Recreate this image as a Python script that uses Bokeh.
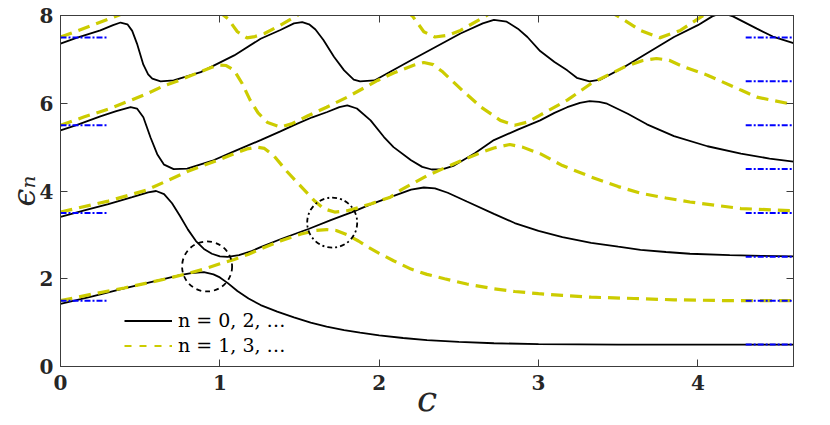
from bokeh.plotting import figure
from bokeh.models import (Range1d, LinearAxis, FixedTicker, Legend, LegendItem,
                          CustomJSTickFormatter)
from bokeh.embed import file_html
from bokeh.resources import INLINE

nan = float("nan")

# ---------------- data ----------------
x_ticks = [0, 1, 2, 3, 4]
y_ticks = [0, 2, 4, 6, 8]
x_label = "c"
y_label = "\u03f5\u2099"

# even levels (solid black)
b0_c = [0, 0.2, 0.4, 0.6, 0.75, 0.82, 0.9, 0.96, 1.0, 1.05, 1.11, 1.18, 1.256, 1.36, 1.465,
        1.57, 1.67, 1.78, 1.88, 2.0, 2.15, 2.3, 2.5, 2.72, 3.0, 3.5, 4.0, 4.6]
b0_e = [1.43, 1.6, 1.78, 1.95, 2.08, 2.13, 2.15, 2.1, 2.03, 1.9, 1.72, 1.55, 1.40, 1.25, 1.12,
        1.0, 0.91, 0.83, 0.77, 0.71, 0.65, 0.6, 0.56, 0.53, 0.51, 0.5, 0.5, 0.5]

b1_c = [0, 0.15, 0.3, 0.45, 0.55, 0.6, 0.65, 0.7, 0.75, 0.8, 0.85, 0.9, 0.95, 1.0, 1.05, 1.12,
        1.2, 1.256, 1.38, 1.56, 1.7, 1.83, 1.95, 2.07, 2.2, 2.28, 2.35, 2.43, 2.55, 2.72, 2.85,
        3.0, 3.15, 3.33, 3.5, 3.64, 3.8, 3.95, 4.2, 4.4, 4.6]
b1_e = [3.41, 3.56, 3.70, 3.86, 3.97, 4.0, 3.93, 3.72, 3.43, 3.12, 2.86, 2.68, 2.57, 2.51, 2.5,
        2.54, 2.63, 2.72, 2.9, 3.14, 3.34, 3.52, 3.7, 3.86, 4.03, 4.08, 4.06, 3.96, 3.76, 3.48,
        3.27, 3.09, 2.95, 2.82, 2.73, 2.66, 2.61, 2.57, 2.54, 2.52, 2.51]

b2_c = [0, 0.1, 0.25, 0.35, 0.44, 0.48, 0.52, 0.565, 0.607, 0.65, 0.71, 0.795, 0.96, 1.1, 1.256,
        1.38, 1.465, 1.58, 1.674, 1.75, 1.8, 1.86, 1.946, 2.03, 2.09, 2.2, 2.27, 2.33, 2.4, 2.47,
        2.6, 2.72, 2.87, 3.01, 3.1, 3.18, 3.26, 3.32, 3.38, 3.43, 3.56, 3.68, 3.85, 4.06, 4.27,
        4.45, 4.6]
b2_e = [5.38, 5.5, 5.7, 5.82, 5.91, 5.88, 5.68, 5.22, 4.84, 4.6, 4.5, 4.51, 4.7, 4.92, 5.16,
        5.36, 5.5, 5.68, 5.8, 5.91, 5.95, 5.88, 5.61, 5.23, 5.0, 4.7, 4.55, 4.49, 4.5, 4.58,
        4.86, 5.16, 5.4, 5.61, 5.78, 5.91, 6.01, 6.05, 6.03, 5.99, 5.76, 5.52, 5.25, 5.02, 4.85,
        4.74, 4.67]

b3_c = [0, 0.1, 0.25, 0.33, 0.377, 0.42, 0.45, 0.48, 0.52, 0.55, 0.576, 0.628, 0.71, 0.88, 1.09,
        1.256, 1.38, 1.465, 1.517, 1.56, 1.6, 1.65, 1.716, 1.78, 1.84, 1.88, 1.97, 2.2, 2.51,
        2.65, 2.72, 2.8, 2.87, 2.93, 3.01, 3.1, 3.18, 3.24, 3.32, 3.39, 3.54, 3.85, 4.0, 4.09,
        4.15, 4.22, 4.37, 4.47, 4.6]
b3_e = [7.36, 7.49, 7.66, 7.78, 7.84, 7.8, 7.65, 7.36, 6.88, 6.66, 6.56, 6.5, 6.52, 6.71, 7.09,
        7.47, 7.67, 7.82, 7.85, 7.8, 7.68, 7.44, 7.06, 6.75, 6.54, 6.5, 6.52, 6.98, 7.59,
        7.82, 7.9, 7.86, 7.7, 7.51, 7.19, 6.94, 6.75, 6.58, 6.5, 6.54, 6.83, 7.51, 7.78, 7.98,
        8.06, 7.98, 7.7, 7.52, 7.37]

# odd levels (dashed yellow)
y0_c = [0, 0.2, 0.4, 0.565, 0.7, 0.8, 0.9, 1.0, 1.09, 1.18, 1.256, 1.38, 1.51, 1.6, 1.67, 1.73,
        1.8, 1.87, 1.93, 2.0, 2.09, 2.2, 2.3, 2.41, 2.55, 2.72, 2.85, 3.0, 3.15, 3.33, 3.6, 3.85,
        4.2, 4.6]
y0_e = [1.5, 1.65, 1.79, 1.92, 2.03, 2.12, 2.22, 2.34, 2.44, 2.56, 2.68, 2.86, 3.02, 3.1, 3.12,
        3.1, 3.0, 2.86, 2.72, 2.58, 2.41, 2.22, 2.1, 2.0, 1.88, 1.77, 1.71, 1.66, 1.62, 1.58,
        1.55, 1.52, 1.5, 1.5]

y1_c = [0, 0.3, 0.54, 0.8, 1.0, 1.09, 1.17, 1.23, 1.28, 1.34, 1.42, 1.51, 1.59, 1.65, 1.72, 1.8,
        1.88, 1.95, 2.07, 2.14, 2.3, 2.47, 2.62, 2.72, 2.82, 2.9, 3.01, 3.15, 3.33, 3.5, 3.64,
        3.8, 3.95, 4.27, 4.6]
y1_e = [3.52, 3.77, 4.02, 4.45, 4.72, 4.85, 4.96, 5.0, 4.97, 4.8, 4.45, 4.1, 3.79, 3.6, 3.52,
        3.55, 3.63, 3.71, 3.86, 4.03, 4.35, 4.62, 4.85, 4.98, 5.06, 5.0, 4.85, 4.58, 4.32, 4.1,
        3.95, 3.84, 3.75, 3.6, 3.55]

y2_c = [0, 0.15, 0.31, 0.45, 0.544, 0.65, 0.73, 0.88, 0.95, 0.99, 1.04, 1.09, 1.14, 1.19, 1.24,
        1.3, 1.38, 1.45, 1.55, 1.67, 1.8, 1.99, 2.09, 2.22, 2.28, 2.34, 2.4, 2.52, 2.64, 2.76,
        2.85, 2.93, 3.01, 3.18, 3.33, 3.54, 3.65, 3.74, 3.82, 3.91, 4.06, 4.27, 4.37, 4.6]
y2_e = [5.5, 5.69, 5.88, 6.08, 6.22, 6.4, 6.5, 6.72, 6.82, 6.87, 6.86, 6.75, 6.45, 6.07, 5.78,
        5.56, 5.46, 5.53, 5.71, 5.91, 6.14, 6.52, 6.69, 6.87, 6.93, 6.88, 6.71, 6.3, 5.91, 5.61,
        5.5, 5.57, 5.73, 6.07, 6.45, 6.83, 6.97, 7.02, 6.98, 6.83, 6.64, 6.3, 6.14, 5.97]

y3_c = [0, 0.1, 0.2, 0.31, 0.36, 0.42, nan, 0.99, 1.05, 1.11, 1.17, 1.22, 1.28, 1.38, 1.475, 1.52,
        nan, 2.17, 2.21, 2.28, 2.35, 2.43, 2.51, 2.66, 2.7, nan, 3.44, 3.5, 3.64, 3.76, 3.89,
        4.02, 4.06]
y3_e = [7.51, 7.64, 7.78, 7.93, 8.0, 8.08, nan, 8.1, 7.93, 7.63, 7.49, 7.52, 7.59, 7.78, 7.98, 8.08,
        nan, 8.1, 7.98, 7.63, 7.51, 7.55, 7.66, 7.97, 8.06, nan, 8.1, 7.98, 7.66, 7.49, 7.66,
        7.97, 8.06]

# harmonic-oscillator limits (blue dash-dot marks)
left_levels = [1.5, 3.5, 5.5, 7.5]
left_c = [0.0, 0.3]
right_levels = [0.5, 1.5, 2.5, 3.5, 4.5, 5.5, 6.5, 7.5]
right_c = [4.3, 4.6]

# avoided-crossing markers
circ_c = [0.92, 1.705]
circ_e = [2.28, 3.28]

legend_labels = ["n = 0, 2, \u2026", "n = 1, 3, \u2026"]

# ---------------- styling ----------------
BLACK = "#000000"
YEL = "#cccc00"
BLUE = "#0000ff"
AX = "#3c3c3c"
TXT = "#262626"
SERIF = "DejaVu Serif"

p = figure(width=830, height=425, output_backend="svg", toolbar_location=None,
           x_range=Range1d(0, 4.6), y_range=Range1d(0, 8),
           min_border_left=60, min_border_right=37, min_border_top=15, min_border_bottom=59,
           background_fill_color="white", border_fill_color="white")
p.outline_line_color = AX
p.xgrid.visible = False
p.ygrid.visible = False

bottom = p.below[0]
left = p.left[0]
top = LinearAxis()
right = LinearAxis()
p.add_layout(top, "above")
p.add_layout(right, "right")

for ax, ticks in [(bottom, x_ticks), (top, x_ticks), (left, y_ticks), (right, y_ticks)]:
    ax.ticker = FixedTicker(ticks=ticks)
    ax.major_tick_in = 7
    ax.major_tick_out = 0
    ax.minor_tick_line_color = None
    ax.axis_line_color = AX
    ax.major_tick_line_color = AX
    ax.major_label_text_font = SERIF
    ax.major_label_text_font_style = "bold"
    ax.major_label_text_font_size = "20px"
    ax.major_label_text_color = TXT

for ax in (top, right):
    ax.formatter = CustomJSTickFormatter(code="return ''")
    ax.major_label_standoff = 0
    ax.major_label_text_font_size = "1px"

bottom.major_label_standoff = 8
left.major_label_standoff = 7

bottom.axis_label = x_label
bottom.axis_label_text_font = SERIF
bottom.axis_label_text_font_style = "italic"
bottom.axis_label_text_font_size = "36px"
bottom.axis_label_text_color = TXT
bottom.axis_label_standoff = -15

left.axis_label = y_label
left.axis_label_text_font = SERIF
left.axis_label_text_font_style = "italic"
left.axis_label_text_font_size = "32px"
left.axis_label_text_color = TXT
left.axis_label_standoff = -6

# curves
for cc, ee in [(b0_c, b0_e), (b1_c, b1_e), (b2_c, b2_e), (b3_c, b3_e)]:
    p.line(cc, ee, line_color=BLACK, line_width=1.8)
for cc, ee in [(y0_c, y0_e), (y1_c, y1_e), (y2_c, y2_e), (y3_c, y3_e)]:
    p.line(cc, ee, line_color=YEL, line_width=3.2, line_dash="12 7")

p.segment(x0=[left_c[0]] * len(left_levels), x1=[left_c[1]] * len(left_levels),
          y0=left_levels, y1=left_levels, line_color=BLUE, line_width=2, line_dash="6 2 2 2")
p.segment(x0=[right_c[0]] * len(right_levels), x1=[right_c[1]] * len(right_levels),
          y0=right_levels, y1=right_levels, line_color=BLUE, line_width=2, line_dash="6 2 2 2")

p.scatter(circ_c[:1], circ_e[:1], marker="circle", size=50, fill_color=None,
          line_color=BLACK, line_width=1.8, line_dash="5 4")
p.scatter(circ_c[1:], circ_e[1:], marker="circle", size=50, fill_color=None,
          line_color=BLACK, line_width=1.8, line_dash="5 3 2 3")

# legend (proxy renderers with undrawable points carry the legend styling)
leg_b = p.line(x=[nan], y=[nan], line_color=BLACK, line_width=1.8)
leg_y = p.line(x=[nan], y=[nan], line_color=YEL, line_width=2.2, line_dash="7 8")
legend = Legend(items=[LegendItem(label=legend_labels[0], renderers=[leg_b]),
                       LegendItem(label=legend_labels[1], renderers=[leg_y])],
                location=(64, 10), padding=0, margin=0, spacing=3,
                glyph_width=48, glyph_height=21, label_height=21, label_standoff=6,
                label_text_font=SERIF, label_text_font_size="19px", label_text_color=BLACK,
                background_fill_alpha=0, border_line_color=None)
p.add_layout(legend)

open("out.html", "w").write(file_html(p, INLINE))
